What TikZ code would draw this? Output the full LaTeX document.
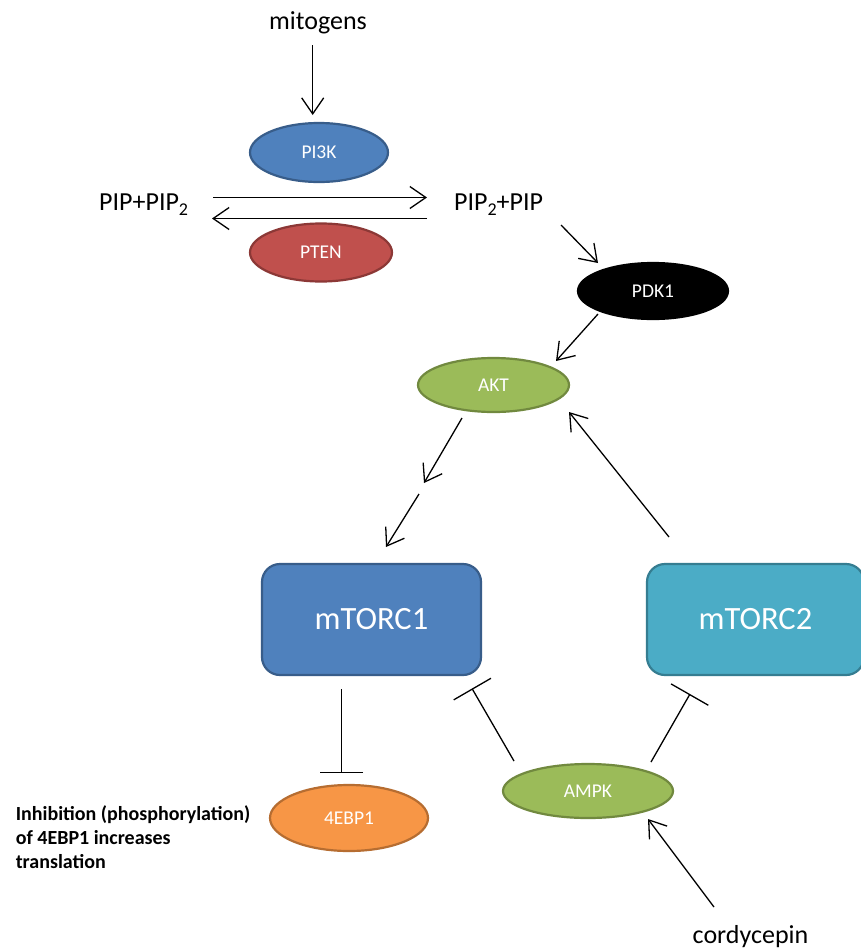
\documentclass[tikz,border=0pt]{standalone}
\usepackage{fontspec}
\setmainfont{Carlito}
\usetikzlibrary{arrows.meta,shapes.geometric}
\definecolor{bluefill}{HTML}{4F81BD}
\definecolor{bluedraw}{HTML}{385D8A}
\definecolor{redfill}{HTML}{C0504D}
\definecolor{reddraw}{HTML}{8C3836}
\definecolor{greenfill}{HTML}{9BBB59}
\definecolor{greendraw}{HTML}{71893F}
\definecolor{orangefill}{HTML}{F79646}
\definecolor{orangedraw}{HTML}{B66D31}
\definecolor{cyanfill}{HTML}{4BACC6}
\definecolor{cyandraw}{HTML}{357D91}
\newcommand\sbtwo{\raisebox{-5pt}{\fontsize{18pt}{18pt}\selectfont 2}}
\begin{document}
\begin{tikzpicture}[x=1pt,y=-1pt,
  ell/.style={ellipse, inner sep=0pt, line width=2.2pt, text=white, font=\fontsize{19.5pt}{19.5pt}\selectfont},
  cbox/.style={rectangle, rounded corners=18pt, inner sep=0pt, line width=2.2pt, text=white, minimum height=111pt, font=\fontsize{32.5pt}{32.5pt}\selectfont},
  lbl/.style={inner sep=0pt, font=\fontsize{26pt}{26pt}\selectfont},
  act/.style={line width=1.3pt, -{Straight Barb[length=16pt,width=22pt]}},
  inh/.style={line width=1.3pt, -{Bar[width=43pt]}}
]
\fill[white] (0,0) rectangle (860,948);
\useasboundingbox (0,0) rectangle (860,948);

% nodes
\node[lbl, anchor=base] (mito) at (318,29) {mitogens};
\node[ell, fill=bluefill, draw=bluedraw, minimum width=138pt, minimum height=59pt] (pi3k) at (319,152.5) {PI3K};
\node[ell, fill=redfill, draw=reddraw, minimum width=142pt, minimum height=58pt] (pten) at (321,252.5) {PTEN};
\node[lbl, anchor=base west] (pipl) at (99,210) {PIP+PIP\sbtwo};
\node[lbl, anchor=base west] (pipr) at (454,210) {PIP\sbtwo+PIP};
\node[ell, fill=black, draw=black, minimum width=150pt, minimum height=56pt] (pdk1) at (653,291) {PDK1};
\node[ell, fill=greenfill, draw=greendraw, minimum width=151pt, minimum height=54pt] (akt) at (493.5,385) {AKT};
\node[cbox, fill=bluefill, draw=bluedraw, minimum width=219pt] (mtorc1) at (371.5,619.5) {mTORC1};
\node[cbox, fill=cyanfill, draw=cyandraw, minimum width=217pt] (mtorc2) at (755.5,619.5) {mTORC2};
\node[ell, fill=orangefill, draw=orangedraw, minimum width=158pt, minimum height=66pt] (ebp) at (349,818) {4EBP1};
\node[ell, fill=greenfill, draw=greendraw, minimum width=170pt, minimum height=54pt] (ampk) at (588,791) {AMPK};
\node[anchor=north west, inner sep=0pt, align=left, font=\bfseries\fontsize{20pt}{24pt}\selectfont] (note) at (15.6,805) {Inhibition (phosphorylation)\\of 4EBP1 increases\\translation};
\node[lbl, anchor=base] (cord) at (750.5,943) {cordycepin};

% connector end points
\coordinate (mitoA) at (312.7,45);
\coordinate (mitoB) at (312.7,115);
\coordinate (fwdA) at (213,197.5);
\coordinate (fwdB) at (427,197.5);
\coordinate (bckA) at (427,218.5);
\coordinate (bckB) at (212,218.5);
\coordinate (pipA) at (561,225);
\coordinate (pipB) at (598,263);
\coordinate (pdkA) at (598,314);
\coordinate (pdkB) at (556,361);
\coordinate (aktA) at (462,418);
\coordinate (midA) at (424,483);
\coordinate (midB) at (419,494);
\coordinate (m1B) at (386,547);
\coordinate (m2A) at (669,537);
\coordinate (m2B) at (569,412);
\coordinate (m1A) at (341.5,689);
\coordinate (ebpB) at (341.5,773);
\coordinate (ampkL) at (514,761);
\coordinate (m1I) at (472,688.5);
\coordinate (ampkR) at (651,762);
\coordinate (m2I) at (690,694);
\coordinate (cordA) at (714,907);
\coordinate (cordB) at (648,819);

% connectors
\draw[act] (mitoA) -- (mitoB);
\draw[act] (fwdA) -- (fwdB);
\draw[act] (bckA) -- (bckB);
\draw[act] (pipA) -- (pipB);
\draw[act] (pdkA) -- (pdkB);
\draw[act] (aktA) -- (midA);
\draw[act] (midB) -- (m1B);
\draw[act] (m2A) -- (m2B);
\draw[inh] (m1A) -- (ebpB);
\draw[inh] (ampkL) -- (m1I);
\draw[inh] (ampkR) -- (m2I);
\draw[act] (cordA) -- (cordB);
\end{tikzpicture}
\end{document}
